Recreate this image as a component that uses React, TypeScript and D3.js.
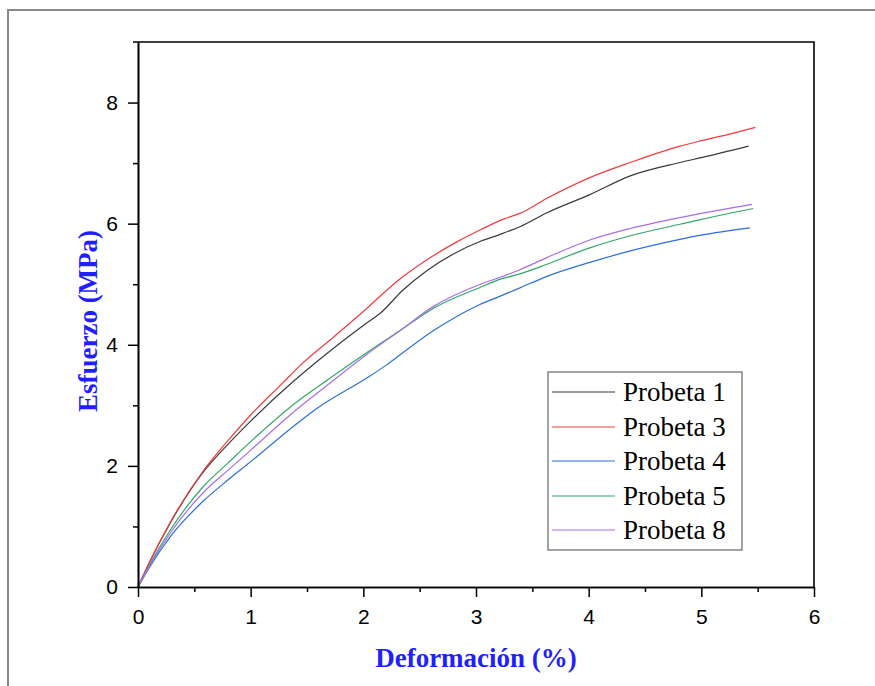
import { axisBottom, axisLeft, curveMonotoneX, line, scaleLinear, select } from "d3";
import { useEffect, useRef } from "react";

// strain (%) / stress (MPa)
const p1Strain = [0, 0.1, 0.29, 0.58, 0.8, 1.0, 1.37, 1.6, 2.03, 2.15, 2.35, 2.56, 2.8, 3.04, 3.21, 3.39, 3.63, 4.01, 4.37, 4.81, 5.0, 5.42];
const p1Stress = [0, 0.4, 1.07, 1.9, 2.36, 2.74, 3.38, 3.74, 4.36, 4.52, 4.9, 5.22, 5.5, 5.71, 5.82, 5.95, 6.18, 6.48, 6.79, 7.01, 7.09, 7.28];

const p3Strain = [0, 0.1, 0.29, 0.58, 0.8, 1.0, 1.29, 1.44, 1.75, 2.03, 2.3, 2.62, 2.85, 3.04, 3.25, 3.39, 3.63, 4.01, 4.37, 4.81, 5.0, 5.25, 5.48];
const p3Stress = [0, 0.4, 1.08, 1.92, 2.42, 2.84, 3.38, 3.66, 4.15, 4.6, 5.05, 5.47, 5.72, 5.9, 6.08, 6.17, 6.42, 6.76, 7.01, 7.28, 7.37, 7.48, 7.59];

const p4Strain = [0, 0.1, 0.29, 0.58, 0.8, 1.0, 1.44, 1.59, 2.03, 2.2, 2.33, 2.62, 3.04, 3.21, 3.39, 3.63, 4.01, 4.37, 4.81, 5.0, 5.43];
const p4Stress = [0, 0.32, 0.84, 1.42, 1.77, 2.07, 2.74, 2.95, 3.45, 3.66, 3.84, 4.23, 4.67, 4.8, 4.94, 5.13, 5.36, 5.55, 5.74, 5.81, 5.93];

const p5Strain = [0, 0.1, 0.29, 0.58, 0.8, 1.0, 1.44, 1.59, 2.03, 2.33, 2.62, 3.04, 3.21, 3.39, 3.63, 4.01, 4.37, 4.81, 5.0, 5.46];
const p5Stress = [0, 0.36, 0.95, 1.66, 2.05, 2.4, 3.1, 3.3, 3.87, 4.24, 4.6, 4.95, 5.08, 5.17, 5.33, 5.6, 5.8, 5.99, 6.07, 6.25];

const p8Strain = [0, 0.1, 0.29, 0.58, 0.8, 1.0, 1.44, 1.59, 2.03, 2.33, 2.62, 3.04, 3.21, 3.39, 3.63, 4.01, 4.37, 4.81, 5.0, 5.45];
const p8Stress = [0, 0.34, 0.9, 1.56, 1.93, 2.26, 2.98, 3.2, 3.84, 4.24, 4.63, 5.0, 5.11, 5.24, 5.44, 5.73, 5.92, 6.1, 6.17, 6.32];

const seriesNames = ["Probeta 1", "Probeta 3", "Probeta 4", "Probeta 5", "Probeta 8"];
const seriesColors = ["#3a3a3a", "#f23c3c", "#2a6fe0", "#2fa866", "#a66de8"];
const seriesStrain = [p1Strain, p3Strain, p4Strain, p5Strain, p8Strain];
const seriesStress = [p1Stress, p3Stress, p4Stress, p5Stress, p8Stress];

const xTicks = [0, 1, 2, 3, 4, 5, 6];
const xMinor = [0.5, 1.5, 2.5, 3.5, 4.5, 5.5];
const yTicks = [0, 2, 4, 6, 8];
const yMinor = [1, 3, 5, 7];

const W = 875;
const H = 686;
const margin = { top: 42, right: 61, bottom: 99, left: 138 };
const sansFont = "'Liberation Sans', Arial, sans-serif";
const serifFont = "'Liberation Serif', 'Times New Roman', serif";
const titleBlue = "#1f1fff";

export default function App() {
  const xRef = useRef<SVGGElement>(null);
  const xMinorRef = useRef<SVGGElement>(null);
  const yRef = useRef<SVGGElement>(null);
  const yMinorRef = useRef<SVGGElement>(null);

  const width = W - margin.left - margin.right;
  const height = H - margin.top - margin.bottom;

  const x = scaleLinear().domain([0, 6]).range([0, width]);
  const y = scaleLinear().domain([0, 9]).range([height, 0]);

  useEffect(() => {
    const style = (g: any) => {
      g.select(".domain").attr("stroke", "#000").attr("stroke-width", 1.6);
      g.selectAll(".tick line").attr("stroke", "#000").attr("stroke-width", 1.5);
      g.selectAll(".tick text")
        .attr("fill", "#000")
        .style("font-family", sansFont)
        .style("font-size", "21px");
    };
    if (xRef.current) {
      select(xRef.current)
        .call(axisBottom(x).tickValues(xTicks).tickSize(10).tickSizeOuter(0).tickPadding(12).tickFormat((d: any) => String(d)))
        .call(style);
    }
    if (xMinorRef.current) {
      select(xMinorRef.current)
        .call(axisBottom(x).tickValues(xMinor).tickSize(5).tickSizeOuter(0).tickFormat(() => ""))
        .call(style);
    }
    if (yRef.current) {
      select(yRef.current)
        .call(axisLeft(y).tickValues(yTicks).tickSize(10).tickSizeOuter(0).tickPadding(10).tickFormat((d: any) => String(d)))
        .call(style);
    }
    if (yMinorRef.current) {
      select(yMinorRef.current)
        .call(axisLeft(y).tickValues(yMinor).tickSize(5).tickSizeOuter(0).tickFormat(() => ""))
        .call(style);
    }
  }, []);

  const legend = { x: 548, y: 372, w: 194, h: 178, row0: 20, step: 34.5 };

  return (
    <svg width={W} height={H} style={{ position: "absolute", left: 0, top: 0, background: "#fff" }}>
      {/* outer frame */}
      <path d={`M8,${H} V10 H${W}`} fill="none" stroke="#888" strokeWidth={2} />

      <g transform={`translate(${margin.left}, ${margin.top})`}>
        {seriesStrain.map((xs, i) => {
          const ys = seriesStress[i];
          const gen = line<number>()
            .x((d) => x(d))
            .y((_, j) => y(ys[j]))
            .curve(curveMonotoneX);
          return (
            <path key={seriesNames[i]} d={gen(xs) ?? ""} fill="none" stroke={seriesColors[i]} strokeWidth={1.2} />
          );
        })}

        {/* top and right frame */}
        <path d={`M-5,0 H${width} V${height}`} fill="none" stroke="#000" strokeWidth={1.6} />
        <g ref={xMinorRef} transform={`translate(0, ${height})`} />
        <g ref={xRef} transform={`translate(0, ${height})`} />
        <g ref={yMinorRef} />
        <g ref={yRef} />
      </g>

      {/* legend */}
      <rect x={legend.x} y={legend.y} width={legend.w} height={legend.h} fill="#fff" stroke="#666" strokeWidth={1.2} />
      {seriesNames.map((name, i) => {
        const cy = Math.round(legend.y + legend.row0 + i * legend.step);
        return (
          <g key={name}>
            <line x1={legend.x + 4} x2={legend.x + 67} y1={cy} y2={cy} stroke={seriesColors[i]} strokeWidth={1.2} />
            <text x={legend.x + 75} y={cy + 9} fontFamily={serifFont} fontSize={27} fill="#000">
              {name}
            </text>
          </g>
        );
      })}

      {/* axis titles */}
      <text x={476} y={667} textAnchor="middle" fontFamily={serifFont} fontWeight="bold" fontSize={27} fill={titleBlue}>
        Deformación (%)
      </text>
      <text
        transform="translate(97, 321) rotate(-90)"
        textAnchor="middle"
        fontFamily={serifFont}
        fontWeight="bold"
        fontSize={27}
        fill={titleBlue}
      >
        Esfuerzo (MPa)
      </text>
    </svg>
  );
}
